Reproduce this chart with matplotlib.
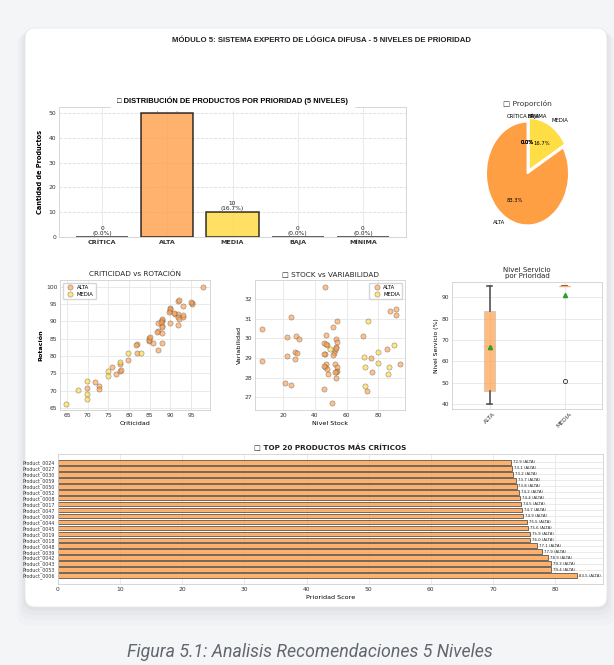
import matplotlib
matplotlib.use("Agg")
import matplotlib.pyplot as plt
from matplotlib.patches import FancyBboxPatch
import numpy as np

# ---------------- data ----------------
categories = ["CRÍTICA", "ALTA", "MEDIA", "BAJA", "MÍNIMA"]
counts = [0, 50, 10, 0, 0]
bar_colors = ["#E74C3C", "#FF9F4A", "#FFD93D", "#6BCB77", "#4D96FF"]
pie_colors = ["#E74C3C", "#FF9F43", "#FFDD44", "#6BCB77", "#4D96FF"]

crit_alta = [98, 91.9, 95.2, 95.2, 93, 89.9, 89.9, 91.1, 91.9, 91.9, 93, 87.9, 87.9, 86.9, 89.9, 91.9,
             87.9, 86.9, 87.9, 84.9, 84.9, 85.9, 87.9, 81.9, 81.9, 86.9, 79.8, 77.8, 75.8, 77.8, 76.9,
             71.8, 72.8, 72.8, 69.8, 92.0, 89.8, 87.9, 87.8, 84.8, 85.0, 81.8, 90.9, 93.1, 88.1, 86.8,
             92.2, 95.0, 89.7, 78.0]
rot_alta = [100, 96, 95.3, 95.0, 94.6, 93.9, 93.1, 92.3, 92.1, 91.3, 91.3, 90.5, 90, 89.5, 89.5, 89,
            88.6, 87.3, 86.8, 85.1, 84.3, 83.9, 83.8, 83.4, 81, 81.7, 79, 77.6, 76.9, 75.6, 74.9,
            72.6, 71.2, 70.4, 70.9, 96.3, 93.5, 90.8, 89.9, 84.7, 85.5, 83.1, 92.6, 92.0, 88.3, 87.0,
            90.8, 95.6, 92.7, 76.0]
crit_media = [82.9, 79.8, 77.8, 74.8, 74.8, 69.8, 69.8, 69.8, 67.7, 64.8]
rot_media = [81, 80.8, 78.4, 75.8, 74.3, 72.8, 69, 67.5, 70.2, 66.1]

stock_alta = [6.7, 6.7, 46.3, 24.6, 22.5, 27.8, 29.9, 27.4, 28.8, 22.5, 27.4, 21.1, 24.8, 45.7, 50.5,
              47, 45.7, 47.4, 46.3, 47, 46.3, 47.8, 48, 51.6, 54.1, 53.3, 53.7, 53.3, 52.6, 52, 51.6,
              52.6, 53.7, 54.1, 53.3, 53.3, 70.1, 75.2, 75.8, 73.1, 85.7, 87.4, 90.9, 91.2, 93.7,
              46.0, 53.0, 47.2, 46.0, 52.4]
var_alta = [30.47, 28.86, 32.59, 31.1, 30.05, 30.14, 29.95, 29.29, 29.24, 29.1, 28.95, 27.71, 27.63,
            27.41, 26.7, 30.17, 29.78, 29.69, 29.19, 28.68, 28.56, 28.47, 28.19, 30.59, 30.88, 29.99,
            29.8, 29.58, 29.41, 29.24, 29.15, 28.68, 28.56, 28.34, 28.27, 27.97, 30.14, 28.98, 28.27,
            27.32, 29.46, 31.39, 31.49, 31.19, 28.69, 28.62, 29.5, 29.72, 29.2, 28.3]
stock_media = [49.5, 73.7, 70.9, 71.6, 71.6, 79.6, 79.6, 86.7, 85.9, 90.1]
var_media = [29.46, 30.88, 29.07, 28.53, 27.59, 29.32, 28.76, 28.56, 28.17, 29.66]

servicio_alta = [40.0, 41.2, 42.0, 42.5, 43.1, 43.8, 44.0, 44.5, 44.9, 45.2, 45.4, 45.6, 45.8, 46.5,
                 48.0, 50.2, 52.0, 54.5, 56.0, 58.3, 60.1, 62.0, 63.5, 65.0, 66.2, 68.0, 69.5, 71.0,
                 72.8, 74.0, 75.5, 77.0, 78.2, 79.5, 80.6, 81.8, 82.9, 84.0, 84.5, 85.6, 86.8, 88.0,
                 89.1, 90.2, 91.0, 92.3, 93.1, 94.0, 94.8, 95.5]
servicio_media = [95.5, 95.5, 95.5, 95.5, 95.5, 95.5, 95.5, 95.5, 95.5, 51.0]
box_labels = ["ALTA", "MEDIA"]

# top 20, listed from top of chart to bottom
top_products = ["Product_0024", "Product_0027", "Product_0030", "Product_0059", "Product_0050",
                "Product_0052", "Product_0008", "Product_0017", "Product_0047", "Product_0009",
                "Product_0044", "Product_0045", "Product_0019", "Product_0018", "Product_0048",
                "Product_0039", "Product_0042", "Product_0043", "Product_0053", "Product_0006"]
top_scores = [72.9, 73.1, 73.2, 73.7, 73.8, 74.2, 74.4, 74.5, 74.7, 74.9, 75.5, 75.6, 75.9, 76.0,
              77.1, 77.9, 78.9, 79.3, 79.4, 83.5]
top_cats = ["ALTA"] * 20

# ---------------- figure ----------------
W, H = 614, 665
fig = plt.figure(figsize=(W / 100, H / 100), dpi=100)
fig.patch.set_facecolor("#f4f5f7")

bg = fig.add_axes([0, 0, 1, 1], zorder=-5)
bg.set_xlim(0, W)
bg.set_ylim(H, 0)
bg.axis("off")
for off, a in [(16, 0.03), (11, 0.04), (7, 0.05), (3, 0.07)]:
    bg.add_patch(FancyBboxPatch((25 - off / 2, 28 + off / 3), 582 + off, 579 + off * 0.8,
                                boxstyle="round,pad=0,rounding_size=12",
                                fc="#8a909a", ec="none", alpha=a))
bg.add_patch(FancyBboxPatch((25, 28), 582, 579, boxstyle="round,pad=0,rounding_size=10",
                            fc="white", ec="#e6e8eb", lw=0.6))
bg.text(310, 652, "Figura 5.1: Analisis Recomendaciones 5 Niveles", ha="center", va="center",
        fontsize=12.8, style="italic", family=["Roboto", "DejaVu Sans"],
        color="#62666d")


def add_ax(x0, y0, x1, y1):
    return fig.add_axes([x0 / W, 1 - y1 / H, (x1 - x0) / W, (y1 - y0) / H])


GRID = "#e6e6e6"
SPINE = "#d0d0d0"
TFS = 4.3


def style(ax):
    ax.set_facecolor("white")
    for s in ax.spines.values():
        s.set_color(SPINE)
        s.set_linewidth(0.6)
    ax.tick_params(length=0, labelsize=TFS, colors="#333333", pad=2)
    ax.grid(True, color=GRID, linewidth=0.6)
    ax.set_axisbelow(True)


fig.text(322 / W, 1 - 41 / H, "MÓDULO 5: SISTEMA EXPERTO DE LÓGICA DIFUSA - 5 NIVELES DE PRIORIDAD",
         ha="center", va="center", fontsize=5.6, fontweight="bold",
         family=["Liberation Sans", "DejaVu Sans"], color="#222222")

# ---- bar chart ----
ax1 = add_ax(59, 107, 406, 237)
style(ax1)
x = np.arange(len(categories))
bars = ax1.bar(x, counts, color=bar_colors, alpha=0.8, edgecolor="black", linewidth=1.1, width=0.8)
total = sum(counts)
for xi, c in zip(x, counts):
    ax1.text(xi, c + 0.4, f"{c}\n({c / total * 100:.1f}%)", ha="center", va="bottom",
             fontsize=4.2, color="#222222", linespacing=0.95)
ax1.set_xticks(x)
ax1.set_xticklabels(categories, fontsize=4.6, fontweight="bold")
ax1.set_ylim(0, 52.5)
ax1.set_xlim(-0.66, 4.66)
ax1.grid(True, axis="y", linestyle="--", color="#dddddd", linewidth=0.6)
ax1.set_ylabel("Cantidad de Productos", fontsize=4.8, fontweight="bold", labelpad=4)
ax1.set_title("□ DISTRIBUCIÓN DE PRODUCTOS POR PRIORIDAD (5 NIVELES)", fontsize=5.4,
              fontweight="bold", pad=3, family=["Liberation Sans", "DejaVu Sans"],
              backgroundcolor="white")

# ---- pie ----
axp = add_ax(476, 109, 579, 238)
wedges, texts, autotexts = axp.pie(counts, labels=categories, colors=pie_colors, autopct="%1.1f%%",
                                   startangle=90, explode=[0, 0, 0.08, 0, 0],
                                   wedgeprops=dict(edgecolor="white", linewidth=1.0),
                                   textprops=dict(fontsize=3.8))
axp.set_aspect("auto")
axp.set_xlim(-1.25, 1.25)
axp.set_ylim(-1.25, 1.25)
axp.set_title("□ Proporción", fontsize=5.4, pad=2, color="#333333")

# ---- scatter criticidad vs rotacion ----
ax2 = add_ax(60, 280, 210, 410)
style(ax2)
ax2.scatter(crit_alta, rot_alta, s=14, c="#FF9F4A", alpha=0.65, edgecolors="#555555",
            linewidths=0.4, label="ALTA")
ax2.scatter(crit_media, rot_media, s=14, c="#FFD93D", alpha=0.65, edgecolors="#555555",
            linewidths=0.4, label="MEDIA")
ax2.set_xlim(63.3, 99.6)
ax2.set_ylim(64.4, 102)
ax2.set_xticks([65, 70, 75, 80, 85, 90, 95])
ax2.set_yticks([65, 70, 75, 80, 85, 90, 95, 100])
ax2.set_xlabel("Criticidad", fontsize=4.6, labelpad=2)
ax2.set_ylabel("Rotación", fontsize=4.6, fontweight="bold", labelpad=2)
ax2.set_title("CRITICIDAD vs ROTACIÓN", fontsize=5.2, pad=3, color="#222222")
ax2.legend(loc="upper left", fontsize=3.8, markerscale=1.0, frameon=True, borderpad=0.4,
           handletextpad=0.3, labelspacing=0.4, edgecolor="#cccccc")

# ---- scatter stock vs variabilidad ----
ax3 = add_ax(255, 280, 405, 410)
style(ax3)
ax3.scatter(stock_alta, var_alta, s=14, c="#FF9F4A", alpha=0.65, edgecolors="#555555",
            linewidths=0.4, label="ALTA")
ax3.scatter(stock_media, var_media, s=14, c="#FFD93D", alpha=0.65, edgecolors="#555555",
            linewidths=0.4, label="MEDIA")
ax3.set_xlim(2.1, 96.9)
ax3.set_ylim(26.36, 32.97)
ax3.set_xticks([20, 40, 60, 80])
ax3.set_yticks([27, 28, 29, 30, 31, 32])
ax3.set_xlabel("Nivel Stock", fontsize=4.6, labelpad=2)
ax3.set_ylabel("Variabilidad", fontsize=4.6, labelpad=2)
ax3.set_title("□ STOCK vs VARIABILIDAD", fontsize=5.2, pad=3, color="#222222")
ax3.legend(loc="upper right", fontsize=3.8, markerscale=1.0, frameon=True, borderpad=0.4,
           handletextpad=0.3, labelspacing=0.4, edgecolor="#cccccc")

# ---- boxplot ----
ax4 = add_ax(452, 282, 602, 409)
style(ax4)
bp = ax4.boxplot([servicio_alta, servicio_media], tick_labels=box_labels, patch_artist=True,
                 showmeans=True, widths=0.15,
                 whiskerprops=dict(color="#555555", linewidth=1.2),
                 capprops=dict(color="#555555", linewidth=1.2),
                 medianprops=dict(color="#FFB070", linewidth=1.0),
                 meanprops=dict(marker="^", markerfacecolor="#2ca02c", markeredgecolor="#2ca02c",
                                markersize=3),
                 flierprops=dict(marker="o", markerfacecolor="none", markeredgecolor="#333333",
                                 markersize=3, markeredgewidth=0.6))
for patch, col in zip(bp["boxes"], ["#FF9F4A", "#FFD93D"]):
    patch.set_facecolor(col)
    patch.set_alpha(0.7)
    patch.set_edgecolor("#bbbbbb")
    patch.set_linewidth(0.6)
ax4.set_ylim(37.7, 97.2)
ax4.set_xlim(0.5, 2.5)
ax4.set_yticks([40, 50, 60, 70, 80, 90])
ax4.tick_params(axis="x", rotation=45)
ax4.set_ylabel("Nivel Servicio (%)", fontsize=4.4, labelpad=2)
ax4.set_title("Nivel Servicio\npor Prioridad", fontsize=5.0, pad=3, color="#222222",
              linespacing=1.0)

# ---- top 20 horizontal bars ----
ax5 = add_ax(58, 454, 603, 584)
style(ax5)
scores_plot = top_scores[::-1]
names_plot = top_products[::-1]
cats_plot = top_cats[::-1]
y = np.arange(len(scores_plot))
ax5.barh(y, scores_plot, color="#FF9F4A", alpha=0.8, edgecolor="#333333", linewidth=0.6,
         height=0.8)
for yi, v, c in zip(y, scores_plot, cats_plot):
    ax5.text(v + 0.3, yi, f"{v:.1f} ({c})", va="center", ha="left", fontsize=2.8, color="#222222")
ax5.set_yticks(y)
ax5.set_yticklabels(names_plot, fontsize=3.4)
ax5.set_xticks([0, 10, 20, 30, 40, 50, 60, 70, 80])
ax5.set_xlim(0, 87.7)
ax5.set_xlabel("Prioridad Score", fontsize=4.6, labelpad=2)
ax5.set_title("□ TOP 20 PRODUCTOS MÁS CRÍTICOS", fontsize=5.2, fontweight="bold", pad=3,
              color="#222222")

fig.savefig("out.png", dpi=100, facecolor=fig.get_facecolor())
